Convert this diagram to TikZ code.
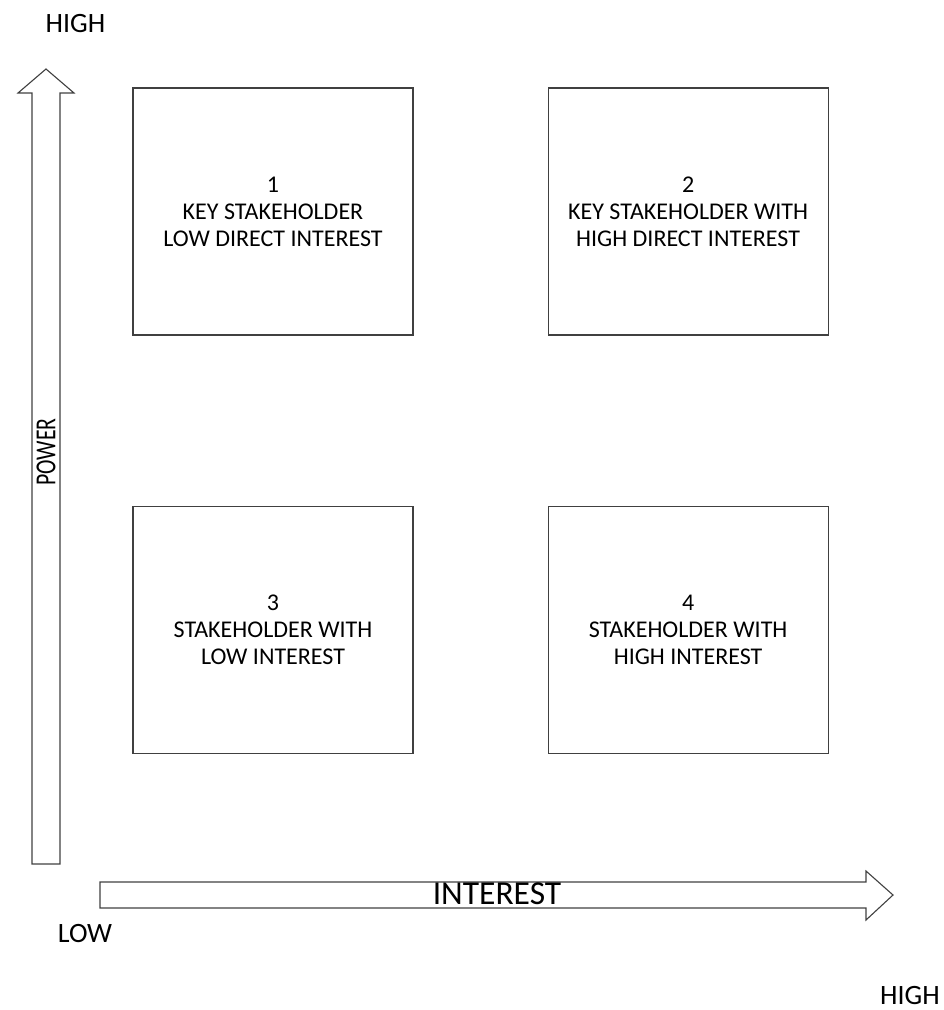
\documentclass[tikz,border=0pt]{standalone}
\usepackage{fontspec}
\setmainfont{Carlito}
\usetikzlibrary{positioning}

\begin{document}
\begin{tikzpicture}[x=1pt, y=-1pt,
    quad/.style = {draw=black!75, line width=1.1pt, minimum width=280pt,
      minimum height=247pt, inner sep=0pt, align=center,
      font=\fontsize{24}{27}\selectfont},
    axislabel/.style = {inner sep=0pt, font=\fontsize{28}{30}\selectfont},
    blockarrow/.style = {draw=black!75, line width=1.1pt, line join=miter}]
    \useasboundingbox (0,0) rectangle (944,1010);

    % quadrants
    \node[quad] (q1) at (273,211.5) {\raisebox{-2.5pt}{\parbox{280pt}{\centering 1\\KEY STAKEHOLDER\\LOW DIRECT INTEREST}}};
    \node[quad, right=134pt of q1] (q2) {\raisebox{-2.5pt}{\parbox{280pt}{\centering 2\\KEY STAKEHOLDER WITH\\HIGH DIRECT INTEREST}}};
    \node[quad, below=170pt of q1] (q3) {\raisebox{-2.5pt}{\parbox{280pt}{\centering 3\\STAKEHOLDER WITH\\LOW INTEREST}}};
    \node[quad, below=170pt of q2] (q4) {\raisebox{-2.5pt}{\parbox{280pt}{\centering 4\\STAKEHOLDER WITH\\HIGH INTEREST}}};

    % power axis
    \coordinate (ptip) at (46,69);
    \draw[blockarrow] (32,864) -- (32,93) -- (18,93) -- (ptip)
      -- (74,93) -- (60,93) -- (60,864) -- cycle;
    \node[inner sep=0pt, rotate=90, font=\fontsize{29}{31}\selectfont] (power) at (46,452) {\scalebox{0.75}[1]{POWER}};

    % interest axis
    \coordinate (itip) at (893,895);
    \draw[blockarrow] (100,882) -- (866,882) -- (866,871) -- (itip)
      -- (866,920) -- (866,908) -- (100,908) -- cycle;
    \node[inner sep=0pt, font=\fontsize{33.5}{36}\selectfont] (interest) at (497,894) {INTEREST};

    % ends of the axes
    \node[axislabel] (powhigh) at (75.5,24) {HIGH};
    \node[axislabel] (low) at (85,933) {LOW};
    \node[axislabel] (inthigh) at (910,995) {HIGH};
\end{tikzpicture}
\end{document}
